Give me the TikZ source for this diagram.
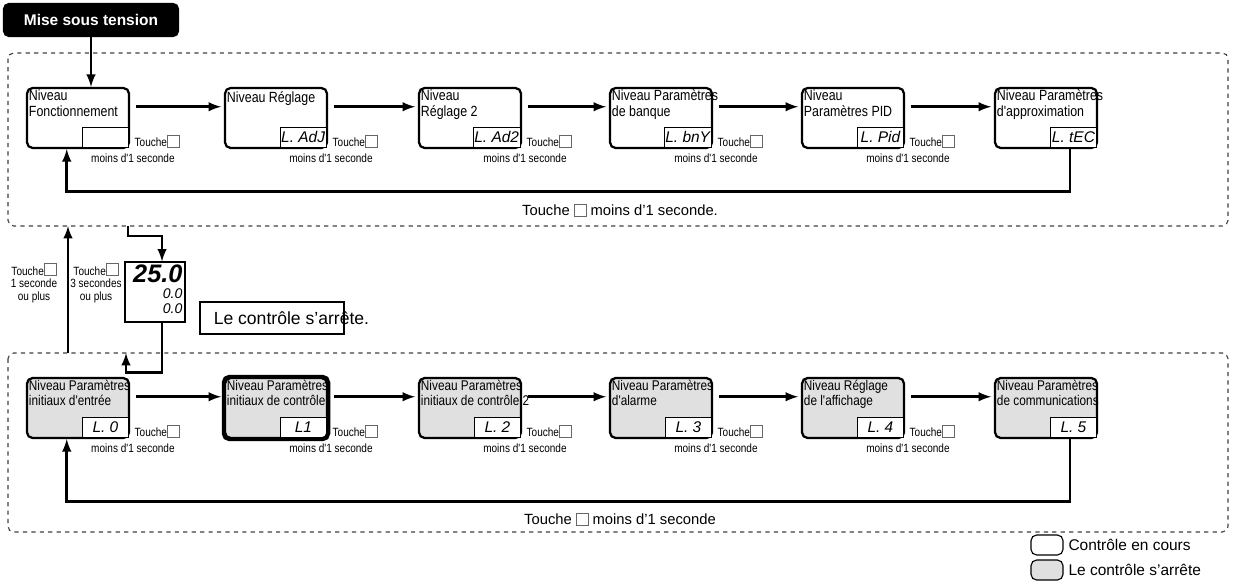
\documentclass[tikz,border=0pt]{standalone}
\usepackage{fontspec}
\setmainfont{Liberation Sans}
\newfontfamily\narrowfont[FakeStretch=0.84]{Liberation Sans}
\usetikzlibrary{arrows}
\tikzstyle{level} = [rectangle, rounded corners=4pt, line width=1.6pt, draw=black,
minimum width=2.55cm, minimum height=1.5cm]
\tikzstyle{stopped} = [level, fill=black!12]
\tikzstyle{ltext} = [align=left, anchor=north west, inner sep=1pt, font=\narrowfont\fontsize{10.5}{11}\selectfont]
\tikzstyle{seg} = [draw, fill=white, anchor=south east, minimum width=1.15cm, minimum height=0.5cm,
inner sep=1pt, font=\fontsize{11}{11}\itshape\selectfont, align=right]
\tikzstyle{key} = [font=\narrowfont\fontsize{8.5}{9}\selectfont, inner sep=1pt]
\tikzstyle{arrow} = [line width=2pt,->,>=latex]
\tikzstyle{zone} = [draw=black!75, thick, dashed, rounded corners=4pt]
\newcommand{\kbox}{{\color{black!60}\fboxsep=0pt\fboxrule=0.5pt\fbox{\rule{0pt}{8pt}\hspace{8pt}}}}
\begin{document}
\begin{tikzpicture}[x=0.025cm, y=-0.025cm]
\useasboundingbox (0,0) rectangle (1234,584);
% zones
\draw[zone] (8,53) rectangle (1228,226);
\draw[zone] (8,353) rectangle (1228,532);
% power on
\node (power) [fill=black, text=white, rounded corners=4pt, font=\bfseries\fontsize{11}{12}\selectfont,
minimum width=4.4cm, minimum height=0.85cm] at (91,20) {Mise sous tension};
% top row
\foreach \n/\x/\t/\c in {1/78/Niveau\\Fonctionnement/,
2/276/\\[-2pt]Niveau Réglage/L.\ AdJ,
3/470/Niveau\\Réglage 2/L.\ Ad2,
4/661/Niveau Paramètres\\de banque/L.\ bnY,
5/853/Niveau\\Paramètres PID/L.\ Pid,
6/1046/Niveau Paramètres\\d'approximation/L.\ tEC}{
\node (t\n) [level] at (\x,118) {};
\node (tt\n) [ltext] at ([shift={(1pt,-1pt)}]t\n.north west) {\t};
\node (ts\n) [seg] at ([shift={(-1pt,1pt)}]t\n.south east) {\c};
}
% bottom row
\foreach \n/\x/\t/\c in {1/78/Niveau Paramètres\\initiaux d'entrée/L.\ 0,
2/276/Niveau Paramètres\\initiaux de contrôle/L1,
3/470/Niveau Paramètres\\initiaux de contrôle 2/L.\ 2,
4/661/Niveau Paramètres\\d'alarme/L.\ 3,
5/853/Niveau Réglage\\de l'affichage/L.\ 4,
6/1046/Niveau Paramètres\\de communications/L.\ 5}{
\node (b\n) [stopped] at (\x,408) {};
\node (bt\n) [ltext, font=\narrowfont\fontsize{10}{11}\selectfont] at ([shift={(1pt,-1pt)}]b\n.north west) {\t};
\node (bs\n) [seg] at ([shift={(-1pt,1pt)}]b\n.south east) {\c};
}
\draw[line width=3pt, rounded corners=4pt] (b2.north west) rectangle (b2.south east);
% forward arrows and labels
\foreach \a/\b in {1/2,2/3,3/4,4/5,5/6}{
\draw [arrow] ([shift={(4pt,8pt)}]t\a.east) -- ([shift={(-2pt,8pt)}]t\b.west);
\draw [arrow] ([shift={(4pt,8pt)}]b\a.east) -- ([shift={(-2pt,8pt)}]b\b.west);
\node (tk\a) [key, anchor=south west] at ([xshift=2pt]t\a.south east) {Touche\kbox};
\node (tm\a) [key, anchor=north] at ([yshift=-2pt]tk\a.south west) {moins d'1 seconde};
\node (bk\a) [key, anchor=south west] at ([xshift=2pt]b\a.south east) {Touche\kbox};
\node (bm\a) [key, anchor=north] at ([yshift=-2pt]bk\a.south west) {moins d'1 seconde};
}
% return loops
\coordinate (tr) at ([xshift=-20pt]t6.south east);
\coordinate (tl) at ([xshift=-8pt]t1.south);
\draw [arrow] (tr) -- ++(0,42) -| (tl);
\node (tret) [font=\fontsize{10.5}{11}\selectfont] at (620,210) {Touche \kbox\ moins d'1 seconde.};
\coordinate (br) at ([xshift=-20pt]b6.south east);
\coordinate (bl) at ([xshift=-8pt]b1.south);
\draw [arrow] (br) -- ++(0,62) -| (bl);
\node (bret) [font=\fontsize{10.5}{11}\selectfont] at (620,519) {Touche \kbox\ moins d'1 seconde};
% power on arrow
\draw [arrow] (power.south) -- (t1.north -| power.south);
% display
\node (disp) [draw, thick, minimum width=1.5cm, minimum height=1.5cm] at (155,292) {};
\node (d1) [anchor=north east, inner sep=2pt, font=\bfseries\itshape\fontsize{18}{18}\selectfont] at (disp.north east) {25.0};
\node (d2) [anchor=north east, inner sep=2pt, font=\itshape\fontsize{10}{11}\selectfont, align=right] at (d1.south east) {0.0\\0.0};
\node (stop) [draw, thick, minimum width=3.6cm, minimum height=0.8cm] at (272,318) {};
\node (stopt) [anchor=west, font=\fontsize{12.5}{13}\selectfont, inner sep=0pt] at ([xshift=10pt]stop.west) {Le contrôle s'arrête.};
\coordinate (zin) at (128,226);
\draw [arrow] (zin) -- ++(0,10) -| ([xshift=5pt]disp.north);
\coordinate (zout) at (126,353);
\draw [arrow] ([xshift=5pt]disp.south) |- ([yshift=-14pt]zout) -- (zout);
\coordinate (up1) at (68,353);
\coordinate (up2) at (68,226);
\draw [arrow] (up1) -- (up2);
\node (k1) [key, align=center] at (34,283) {Touche\kbox\\1 seconde\\ou plus};
\node (k3) [key, align=center] at (96,283) {Touche\kbox\\3 secondes\\ou plus};
% legend
\node (lg1) [level, minimum width=0.8cm, minimum height=0.5cm, thick] at (1047,545) {};
\node (lg1t) [anchor=west, font=\fontsize{11}{12}\selectfont] at (lg1.east) {Contrôle en cours};
\node (lg2) [stopped, minimum width=0.8cm, minimum height=0.5cm, thick] at (1047,570) {};
\node (lg2t) [anchor=west, font=\fontsize{11}{12}\selectfont] at (lg2.east) {Le contrôle s'arrête};
\end{tikzpicture}
\end{document}
